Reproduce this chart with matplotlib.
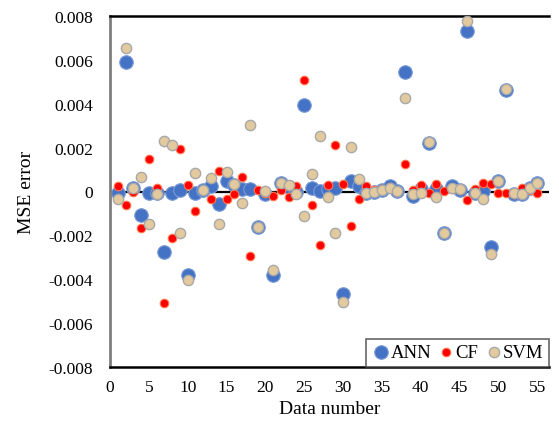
import matplotlib
matplotlib.use('Agg')
import matplotlib.pyplot as plt
import numpy as np

# MSE error per data sample
data_number = list(range(1, 56))

ann = [-0.00005, 0.0059, 0.00018, -0.00108, -0.00005, -0.00005, -0.00278, -0.00005, 0.00007, -0.0038,
       -0.00005, 0.00007, 0.00023, -0.00058, 0.00048, 0.0003, 0.0001, 0.0001, -0.00164, -0.00012,
       -0.00381, 0.00041, 0.0002, 0.0, 0.00395, 0.00018, 0.00003, 0.0001, 0.00018, -0.00468,
       0.00046, 0.00026, -0.00005, 0.0, 0.00006, 0.00025, 0.00003, 0.00545, -0.00022, 0.0001,
       0.00223, 0.0001, -0.00187, 0.00023, 0.00007, 0.00732, -0.00008, 0.00003, -0.00251, 0.00046,
       0.00461, -0.00012, -0.0001, 0.00018, 0.00041]

cf = [0.00026, -0.00062, 0.0, -0.00167, 0.00147, 0.00018, -0.00506, -0.00214, 0.00196, 0.00029,
      -0.00088, 0.00005, -0.00035, 0.00094, -0.00035, -0.00012, 0.00064, -0.00293, 0.00006, -0.00005,
      -0.0002, 0.00006, -0.00024, 0.00023, 0.0051, -0.00062, -0.00245, 0.0003, 0.00212, 0.00033,
      -0.00157, -0.00035, 0.00025, 0.00005, 0.0001, 0.0002, 0.0, 0.00124, 0.00007, 0.00029,
      -0.00009, 0.00036, 0.00003, 0.0001, 0.00005, -0.0004, 0.0001, 0.00041, 0.00036, -0.00005,
      -0.00009, -0.0001, 0.00018, 0.00005, -0.00009]

svm = [-0.00032, 0.00655, 0.00018, 0.00065, -0.00146, -0.00012, 0.0023, 0.00211, -0.0019, -0.00403,
       0.00083, 0.00007, 0.0006, -0.00149, 0.0009, 0.00033, -0.00053, 0.00303, -0.00164, 0.00003,
       -0.00357, 0.00038, 0.0003, -0.00012, -0.00111, 0.00079, 0.00252, -0.00023, -0.0019, -0.00503,
       0.00203, 0.00059, -0.00009, 0.0, 0.00006, 0.00014, 0.00003, 0.00426, -0.00012, -0.00005,
       0.00225, -0.00027, -0.00187, 0.00018, 0.0001, 0.00775, -0.00008, -0.00032, -0.00283, 0.00046,
       0.00469, -0.00009, -0.00012, 0.00018, 0.00041]

y_ticks = [-0.008, -0.006, -0.004, -0.002, 0, 0.002, 0.004, 0.006, 0.008]
y_tick_labels = ['-0.008', '-0.006', '-0.004', '-0.002', '0', '0.002', '0.004', '0.006', '0.008']
x_ticks = list(range(0, 60, 5))

plt.rcParams['font.family'] = ['Liberation Serif', 'DejaVu Serif']

fig = plt.figure(figsize=(5.59, 4.27), dpi=100)
ax = fig.add_axes([110 / 559, 1 - 368 / 427, 439 / 559, 351 / 427])

# zero line
ax.axhline(0, color='black', linewidth=1.6, zorder=1)

ax.scatter(data_number, ann, s=95, color='#4472C4', edgecolors='#7B9BD6',
           linewidths=0.8, label='ANN', zorder=2)
ax.scatter(data_number, cf, s=38, color='#FF0000', edgecolors='#FF7A50',
           linewidths=0.8, label='CF', zorder=3)
ax.scatter(data_number, svm, s=55, color='#E2CA9E', edgecolors='#A8A8A8',
           linewidths=1.0, label='SVM', zorder=4)

ax.set_xlim(0, 56.5)
ax.set_ylim(-0.008, 0.008)
ax.set_xticks(x_ticks)
ax.set_yticks(y_ticks)
ax.set_yticklabels(y_tick_labels)
ax.tick_params(length=0, labelsize=12.5)
ax.tick_params(axis='y', pad=12)
ax.tick_params(axis='x', pad=9)

ax.set_xlabel('Data number', fontsize=14, labelpad=3)
ax.set_ylabel('MSE error', fontsize=14, labelpad=10)

for side in ['top', 'bottom']:
    ax.spines[side].set_color('black')
    ax.spines[side].set_linewidth(1.8)
ax.spines['right'].set_visible(False)
ax.spines['left'].set_color('#7F7F7F')
ax.spines['left'].set_linewidth(2.0)

leg = ax.legend(loc='lower right', ncol=3, fontsize=13.5, frameon=True, fancybox=False,
                borderaxespad=0, handletextpad=0.0, columnspacing=0.3, handlelength=1.0,
                borderpad=0.3, scatterpoints=1)
leg.get_frame().set_edgecolor('#404040')
leg.get_frame().set_linewidth(1.2)

plt.savefig('out.png', dpi=100)
